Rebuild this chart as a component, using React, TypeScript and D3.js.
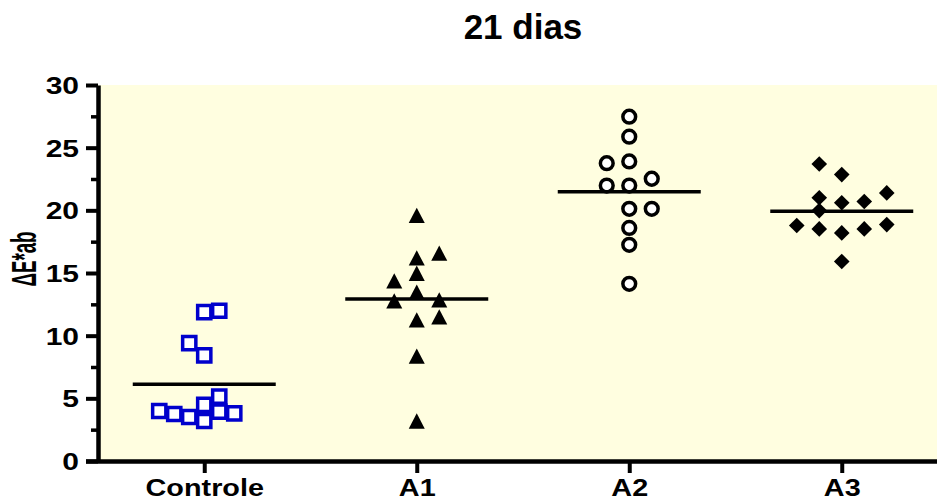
import React, { useEffect, useRef } from "react";
import * as d3 from "d3";

// groups on the x axis
const categories = ["Controle", "A1", "A2", "A3"];

// ΔE*ab values (data-entry order drives the dot layout)
const controleValues = [3.19, 3.51, 3.94, 3.75, 3.8, 3.99, 4.48, 5.14, 8.43, 9.41, 11.88, 11.99];
const a1Values = [19.6, 16.2, 13.48, 14.98, 14.37, 16.58, 12.78, 11.26, 11.5, 12.86, 8.37, 3.19];
const a2Values = [27.47, 25.88, 23.9, 21.98, 21.98, 22.52, 23.76, 20.12, 20.12, 18.6, 17.25, 14.14];
const a3Values = [22.85, 23.7, 20.6, 20.7, 21.0, 21.39, 19.98, 18.2, 18.52, 18.52, 18.86, 18.79, 15.92];

const yTicks = [0, 5, 10, 15, 20, 25, 30];
const yMinorTicks = [2.5, 7.5, 12.5, 17.5, 22.5, 27.5];

const title = "21 dias";
const yLabel = "ΔE*ab";

const width = 937;
const height = 502;
const margin = { top: 85, right: -11, bottom: 41, left: 98 };
const FONT = "'Liberation Sans', Arial, Helvetica, sans-serif";

// layout of the column scatter
const collide = 12.5; // px, vertical distance under which two dots in one slot collide
const fullStep = 22.5; // px between slots
const maxHalf = 45; // px, widest spread allowed either side
const meanHalf = 71.5; // half length of the mean line

// triangle centred on its bounding box
const triangleUp = {
  draw(ctx: any, size: number) {
    const h = Math.sqrt(size);
    const w = h * 1.05;
    ctx.moveTo(0, -h / 2);
    ctx.lineTo(w / 2, h / 2);
    ctx.lineTo(-w / 2, h / 2);
    ctx.closePath();
  },
};

const markers = [
  { type: d3.symbolSquare, size: 174, fill: "#ffffff", stroke: "#0000cc", sw: 3.5 },
  { type: triangleUp, size: 234, fill: "#000000", stroke: "none", sw: 0 },
  { type: d3.symbolCircle, size: 128, fill: "#ffffff", stroke: "#000000", sw: 3.5 },
  { type: (d3 as any).symbolDiamond2, size: 155, fill: "#000000", stroke: "none", sw: 0 },
];

function swarm(values: number[], y: (v: number) => number) {
  const placed: { slot: number; py: number }[] = [];
  let left = 0;
  let right = 0;
  const free = (s: number, py: number) =>
    !placed.some((p) => p.slot === s && Math.abs(p.py - py) < collide);
  const out = values.map((v) => {
    const py = y(v);
    let slot = 0;
    if (!free(0, py)) {
      for (let k = 1; k < 50; k++) {
        const l = free(-k, py);
        const r = free(k, py);
        if (l && r) {
          slot = left <= right ? -k : k;
          break;
        }
        if (l) { slot = -k; break; }
        if (r) { slot = k; break; }
      }
    }
    if (slot < 0) left++;
    else if (slot > 0) right++;
    placed.push({ slot, py });
    return { value: v, slot, py };
  });
  const widest = d3.max(out, (d) => Math.abs(d.slot)) || 0;
  const step = widest > 0 ? Math.min(fullStep, maxHalf / widest) : fullStep;
  return out.map((d) => ({ ...d, dx: d.slot * step }));
}

export default function App() {
  const ref = useRef<SVGSVGElement>(null);

  useEffect(() => {
    const svg = d3.select(ref.current);
    svg.selectAll("*").remove();

    const innerW = width - margin.left - margin.right;
    const innerH = height - margin.top - margin.bottom;
    const groups = [controleValues, a1Values, a2Values, a3Values];

    const x = d3.scalePoint<string>().domain(categories).range([0, innerW]).padding(0.5);
    const y = d3.scaleLinear().domain([0, 30]).range([innerH, 0]);

    const g = svg.append("g").attr("transform", `translate(${margin.left},${margin.top})`);

    g.append("rect")
      .attr("x", 0)
      .attr("y", 0)
      .attr("width", innerW)
      .attr("height", innerH)
      .attr("fill", "#fffee0");

    // dots
    groups.forEach((vals, i) => {
      const cx = x(categories[i]) as number;
      const m = markers[i];
      const sym = d3.symbol().type(m.type).size(m.size);
      g.append("g")
        .selectAll("path")
        .data(swarm(vals, y))
        .enter()
        .append("path")
        .attr("d", sym() as string)
        .attr("transform", (d) => `translate(${cx + d.dx},${d.py})`)
        .attr("fill", m.fill)
        .attr("stroke", m.stroke)
        .attr("stroke-width", m.sw);
    });

    // mean lines
    g.append("g")
      .selectAll("line")
      .data(groups)
      .enter()
      .append("line")
      .attr("x1", (d, i) => (x(categories[i]) as number) - meanHalf)
      .attr("x2", (d, i) => (x(categories[i]) as number) + meanHalf)
      .attr("y1", (d) => y(d3.mean(d) as number))
      .attr("y2", (d) => y(d3.mean(d) as number))
      .attr("stroke", "#000")
      .attr("stroke-width", 3.5);

    // y axis
    const yMinor = g.append("g")
      .call(d3.axisLeft(y).tickValues(yMinorTicks).tickSize(7).tickFormat(() => ""));
    yMinor.select(".domain").remove();
    yMinor.selectAll(".tick line").attr("stroke-width", 3.5);

    const yAxis = g.append("g")
      .call(d3.axisLeft(y).tickValues(yTicks).tickSize(12).tickSizeOuter(0).tickPadding(0));
    yAxis.select(".domain").attr("stroke-width", 4.5);
    yAxis.selectAll(".tick line").attr("stroke-width", 4);
    yAxis.selectAll(".tick text")
      .attr("x", -19 / 1.25)
      .attr("dy", "0.36em")
      .attr("transform", "scale(1.25,1)")
      .attr("font-size", 24)
      .attr("font-weight", "bold")
      .attr("font-family", FONT)
      .attr("fill", "#000");

    // x axis
    const xAxis = g.append("g")
      .attr("transform", `translate(0,${innerH})`)
      .call(d3.axisBottom(x).tickSize(12).tickSizeOuter(0));
    xAxis.select(".domain").remove();
    xAxis.append("line")
      .attr("x1", -12)
      .attr("x2", innerW)
      .attr("y1", 0.5)
      .attr("y2", 0.5)
      .attr("stroke", "#000")
      .attr("stroke-width", 4.5);
    xAxis.selectAll(".tick line").attr("stroke-width", 4);
    xAxis.selectAll(".tick text")
      .attr("y", 35.5)
      .attr("dy", 0)
      .attr("transform", "scale(1.2,1)")
      .attr("font-size", 24)
      .attr("font-weight", "bold")
      .attr("font-family", FONT)
      .attr("fill", "#000");

    // title
    svg.append("text")
      .attr("x", margin.left + innerW / 2)
      .attr("y", 38.5)
      .attr("text-anchor", "middle")
      .attr("font-size", 35)
      .attr("font-weight", "bold")
      .attr("font-family", FONT)
      .text(title);

    // y label
    svg.append("text")
      .attr("transform", "translate(36,259) rotate(-90) scale(0.78,1.45)")
      .attr("text-anchor", "middle")
      .attr("font-size", 24)
      .attr("font-weight", "bold")
      .attr("font-family", FONT)
      .text(yLabel);
  }, []);

  return (
    <svg
      ref={ref}
      width={width}
      height={height}
      style={{ position: "absolute", left: 0, top: 0, background: "#fff" }}
    />
  );
}
